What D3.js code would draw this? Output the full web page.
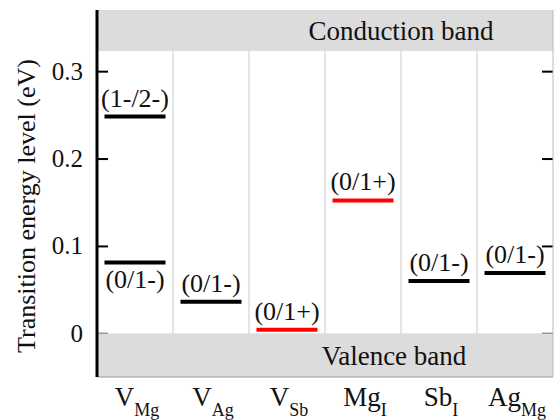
<!doctype html>
<html>
<head>
<meta charset="utf-8">
<title>Transition energy levels</title>
<script src="https://d3js.org/d3.v7.min.js"></script>
<style>
  body { margin: 0; background: #fff; }
</style>
</head>
<body>
<svg id="chart" width="554" height="420"></svg>
<script>
// defects (main symbol + subscript)
var defects = ["V_Mg", "V_Ag", "V_Sb", "Mg_I", "Sb_I", "Ag_Mg"];
var defectMain = ["V", "V", "V", "Mg", "Sb", "Ag"];
var defectSub = ["Mg", "Ag", "Sb", "I", "I", "Mg"];

// transition levels (eV above VBM)
var levelDefect = ["V_Mg", "V_Mg", "V_Ag", "V_Sb", "Mg_I", "Sb_I", "Ag_Mg"];
var levelLabel = ["(1-/2-)", "(0/1-)", "(0/1-)", "(0/1+)", "(0/1+)", "(0/1-)", "(0/1-)"];
var levelValue = [0.248, 0.081, 0.036, 0.004, 0.152, 0.060, 0.069];
var levelType = ["acceptor", "acceptor", "acceptor", "donor", "donor", "acceptor", "acceptor"];

var yTicks = [0, 0.1, 0.2, 0.3];
var cbm = 0.323; // conduction band edge shown in the plot
var vbm = 0;

var FONT = "'Liberation Serif', 'DejaVu Serif', serif";

var svg = d3.select("#chart").attr("font-family", FONT);
var margin = {top: 10, right: 1, bottom: 43, left: 97};
var W = 554, H = 420;

var x = d3.scaleBand().domain(defects).range([margin.left, W - margin.right]).padding(0);
var y = d3.scaleLinear().domain([-0.05, 0.37]).range([H - margin.bottom, margin.top]);
var color = d3.scaleOrdinal().domain(["acceptor", "donor"]).range(["#000", "#ff0000"]);

var levels = levelValue.map(function(v, i) {
  return {defect: levelDefect[i], label: levelLabel[i], value: v, type: levelType[i]};
});

function txt(sel, size) {
  return sel.attr("font-family", FONT).attr("font-size", size).attr("fill", "#111");
}

// column separators
svg.append("g").selectAll("line")
  .data(defects.slice(1))
  .join("line")
    .attr("x1", function(d) { return x(d); })
    .attr("x2", function(d) { return x(d); })
    .attr("y1", y.range()[1])
    .attr("y2", y.range()[0])
    .attr("stroke", "#dcdcdc")
    .attr("stroke-width", 1.5);

// axes (ticks inward on both sides)
var left = svg.append("g")
  .attr("transform", "translate(" + margin.left + ",0)")
  .call(d3.axisRight(y).tickValues(yTicks).tickSize(11).tickFormat(""));
var right = svg.append("g")
  .attr("transform", "translate(" + (W - margin.right) + ",0)")
  .call(d3.axisLeft(y).tickValues(yTicks).tickSize(11).tickFormat(""));
[left, right].forEach(function(g) {
  g.select(".domain").remove();
  g.selectAll(".tick line").attr("stroke", "#000").attr("stroke-width", 2);
});

// tick labels
svg.append("g").selectAll("text")
  .data(yTicks)
  .join("text")
    .call(txt, 25)
    .attr("x", margin.left - 14)
    .attr("y", function(d) { return y(d); })
    .attr("dy", "0.34em")
    .attr("text-anchor", "end")
    .text(function(d) { return d === 0 ? "0" : d3.format(".1f")(d); });

// bands
svg.append("rect")
  .attr("x", margin.left).attr("width", W - margin.right - margin.left)
  .attr("y", y.range()[1]).attr("height", y(cbm) - y.range()[1])
  .attr("fill", "#dcdcdc");
svg.append("rect")
  .attr("x", margin.left).attr("width", W - margin.right - margin.left)
  .attr("y", y(vbm)).attr("height", y.range()[0] - y(vbm))
  .attr("fill", "#dcdcdc");
svg.append("line")
  .attr("x1", margin.left).attr("x2", W - margin.right)
  .attr("y1", y.range()[0]).attr("y2", y.range()[0])
  .attr("stroke", "#999").attr("stroke-width", 1.2);

// band labels sit to the right of centre, as in the original
svg.append("text")
  .call(txt, 27)
  .attr("x", x("Mg_I") + x.bandwidth()).attr("y", (y.range()[1] + y(cbm)) / 2)
  .attr("dy", "0.35em").attr("text-anchor", "middle")
  .text("Conduction band");
svg.append("text")
  .call(txt, 27)
  .attr("x", x("Mg_I") + x.bandwidth() - 7).attr("y", (y(vbm) + y.range()[0]) / 2)
  .attr("dy", "0.35em").attr("text-anchor", "middle")
  .text("Valence band");

// spines
svg.append("line")
  .attr("x1", margin.left).attr("x2", margin.left)
  .attr("y1", y.range()[1]).attr("y2", y.range()[0])
  .attr("stroke", "#000").attr("stroke-width", 3);
svg.append("line")
  .attr("x1", W - margin.right).attr("x2", W - margin.right)
  .attr("y1", y.range()[1]).attr("y2", y.range()[0])
  .attr("stroke", "#bbb").attr("stroke-width", 1);

// level bars
var inset = 7.5;
svg.append("g").selectAll("line")
  .data(levels)
  .join("line")
    .attr("x1", function(d) { return x(d.defect) + inset; })
    .attr("x2", function(d) { return x(d.defect) + x.bandwidth() - inset; })
    .attr("y1", function(d) { return y(d.value); })
    .attr("y2", function(d) { return y(d.value); })
    .attr("stroke", function(d) { return color(d.type); })
    .attr("stroke-width", 4);

// level labels: below the bar when a higher level shares the column
function below(d) {
  return levels.some(function(o) { return o.defect === d.defect && o.value > d.value; });
}
svg.append("g").selectAll("text")
  .data(levels)
  .join("text")
    .call(txt, 26)
    .attr("x", function(d) { return x(d.defect) + x.bandwidth() / 2; })
    .attr("y", function(d) { return y(d.value) + (below(d) ? 25 : -10); })
    .attr("text-anchor", "middle")
    .text(function(d) { return d.label; });

// category labels with subscripts
var cat = svg.append("g").selectAll("text")
  .data(defects)
  .join("text")
    .call(txt, 27)
    .attr("x", function(d) { return x(d) + x.bandwidth() / 2 + 2; })
    .attr("y", 406)
    .attr("text-anchor", "middle");
cat.append("tspan").text(function(d, i) { return defectMain[i]; });
cat.append("tspan")
  .attr("dy", 10)
  .attr("font-size", 18)
  .text(function(d, i) { return defectSub[i]; });

// y axis title
svg.append("text")
  .call(txt, 26)
  .attr("transform", "translate(35," + 206 + ") rotate(-90)")
  .attr("text-anchor", "middle")
  .text("Transition energy level (eV)");
</script>
</body>
</html>
